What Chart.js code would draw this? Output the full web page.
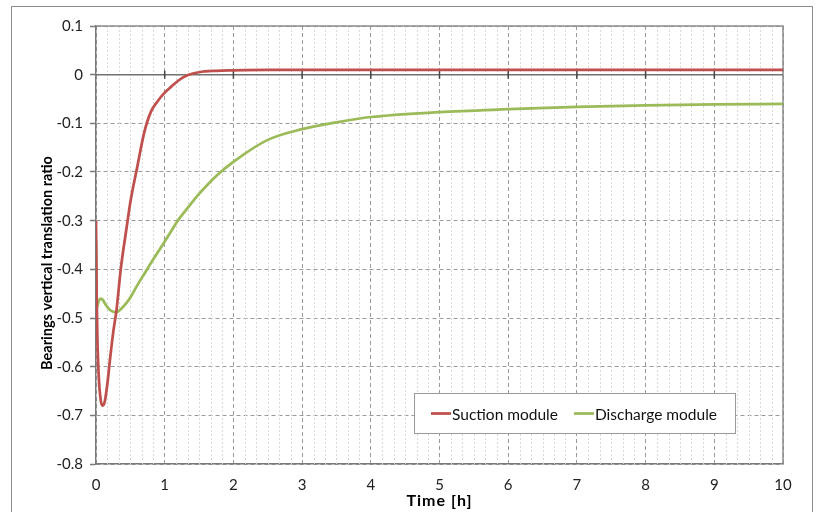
<!DOCTYPE html>
<html>
<head>
<meta charset="utf-8">
<script src="https://cdn.jsdelivr.net/npm/chart.js@4.4.1/dist/chart.umd.min.js"></script>
<style>
  html, body { margin: 0; padding: 0; background: #fff; }
</style>
</head>
<body>
<canvas id="chart" width="817" height="512"></canvas>
<script>
// time axis [h], shared by both series
const hours = [0, 0.005, 0.01, 0.02, 0.04, 0.07, 0.1, 0.13, 0.17, 0.2, 0.25, 0.3, 0.36, 0.45, 0.5,
  0.6, 0.7, 0.8, 0.9, 1.0, 1.1, 1.2, 1.3, 1.5, 1.75, 2, 2.5, 3, 3.5, 4, 5, 6, 7, 8, 9, 10];

const suction = [-0.30, -0.38, -0.46, -0.54, -0.62, -0.67, -0.68, -0.67, -0.63, -0.59, -0.53, -0.482, -0.40, -0.31, -0.262,
  -0.19, -0.12, -0.076, -0.054, -0.037, -0.024, -0.012, -0.003, 0.005, 0.008, 0.009, 0.01, 0.01, 0.01, 0.01, 0.01, 0.01, 0.01, 0.01, 0.01, 0.01];

const discharge = [-0.34, -0.42, -0.48, -0.475, -0.465, -0.46, -0.463, -0.47, -0.478, -0.483, -0.487, -0.488, -0.482, -0.468, -0.458,
  -0.433, -0.41, -0.387, -0.365, -0.343, -0.32, -0.298, -0.28, -0.245, -0.208, -0.179, -0.134, -0.112, -0.098, -0.087, -0.077, -0.071, -0.066, -0.063, -0.061, -0.060];

const seriesNames = ['Suction module', 'Discharge module'];
const seriesColors = ['#C0504D', '#9BBB59'];

const xTitle = 'Time [h]';
const yTitle = 'Bearings vertical translation ratio';

const xRange = [0, 10];
const yRange = [-0.8, 0.1];
const minorPerHour = 6; // 10 minute minor grid

const FONT = 'Lato, "Noto Sans", sans-serif';

const toPoints = vals => hours.map((h, i) => ({ x: h, y: vals[i] }));

// extra drawing: minor grid, zero line, frame, titles, legend box
const decor = {
  id: 'decor',
  beforeDatasetsDraw(chart) {
    const { ctx, chartArea: a, scales: { x, y } } = chart;
    ctx.save();

    // minor vertical lines
    ctx.strokeStyle = '#d9d9d9';
    ctx.lineWidth = 1;
    ctx.setLineDash([2, 2]);
    for (let i = 1; i < xRange[1] * minorPerHour; i++) {
      if (i % minorPerHour === 0) continue;
      const px = Math.round(x.getPixelForValue(i / minorPerHour)) + 0.5;
      ctx.beginPath();
      ctx.moveTo(px, a.top);
      ctx.lineTo(px, a.bottom);
      ctx.stroke();
    }

    // solid top and right edge
    ctx.setLineDash([]);
    ctx.strokeStyle = '#8c8c8c';
    ctx.lineWidth = 1.5;
    ctx.beginPath();
    ctx.moveTo(a.left, a.top);
    ctx.lineTo(a.right, a.top);
    ctx.lineTo(a.right, a.bottom);
    ctx.stroke();

    // zero line with major tick marks
    const zy = y.getPixelForValue(0);
    ctx.strokeStyle = '#737373';
    ctx.beginPath();
    ctx.moveTo(a.left, zy);
    ctx.lineTo(a.right, zy);
    ctx.stroke();
    ctx.strokeStyle = '#444';
    for (let h = xRange[0] + 1; h < xRange[1]; h++) {
      const px = x.getPixelForValue(h);
      ctx.beginPath();
      ctx.moveTo(px, zy - 4);
      ctx.lineTo(px, zy + 4);
      ctx.stroke();
    }
    ctx.restore();
  },
  afterDraw(chart) {
    const { ctx, chartArea: a } = chart;
    ctx.save();

    // outer frame
    ctx.strokeStyle = '#8c8c8c';
    ctx.lineWidth = 1;
    ctx.strokeRect(11.5, 6.5, 801, 530);

    // axis titles
    ctx.fillStyle = '#000';
    ctx.textAlign = 'center';
    ctx.textBaseline = 'alphabetic';
    ctx.font = 'bold 16px ' + FONT;
    ctx.letterSpacing = '1px';
    ctx.fillText(xTitle, (a.left + a.right) / 2, 506);
    ctx.letterSpacing = '0px';
    ctx.font = 'bold 14.5px ' + FONT;
    ctx.save();
    ctx.translate(52, 263);
    ctx.rotate(-Math.PI / 2);
    ctx.fillText(yTitle, 0, 0);
    ctx.restore();

    // legend
    const box = { x: 414.5, y: 393.5, w: 321, h: 40 };
    ctx.fillStyle = '#fff';
    ctx.fillRect(box.x, box.y, box.w, box.h);
    ctx.strokeStyle = '#9a9a9a';
    ctx.lineWidth = 1;
    ctx.strokeRect(box.x, box.y, box.w, box.h);

    ctx.font = '15.5px ' + FONT;
    ctx.textBaseline = 'middle';
    ctx.textAlign = 'left';
    const ly = box.y + box.h / 2;
    let lx = 431;
    chart.data.datasets.forEach(ds => {
      ctx.strokeStyle = ds.borderColor;
      ctx.lineWidth = 2.75;
      ctx.beginPath();
      ctx.moveTo(lx, ly);
      ctx.lineTo(lx + 20, ly);
      ctx.stroke();
      ctx.fillStyle = '#111';
      ctx.fillText(ds.label, lx + 21, ly + 1);
      lx += 21 + ctx.measureText(ds.label).width + 16;
    });
    ctx.restore();
  }
};

new Chart(document.getElementById('chart'), {
  type: 'line',
  data: {
    datasets: [
      {
        label: seriesNames[0],
        data: toPoints(suction),
        borderColor: seriesColors[0],
        borderWidth: 2.75,
        pointRadius: 0,
        cubicInterpolationMode: 'monotone',
        fill: false
      },
      {
        label: seriesNames[1],
        data: toPoints(discharge),
        borderColor: seriesColors[1],
        borderWidth: 2.75,
        pointRadius: 0,
        cubicInterpolationMode: 'monotone',
        fill: false
      }
    ]
  },
  options: {
    responsive: false,
    animation: false,
    layout: { padding: { left: 0, top: 26, right: 34, bottom: 0 } },
    plugins: {
      legend: { display: false },
      tooltip: { enabled: false }
    },
    scales: {
      x: {
        type: 'linear',
        min: xRange[0],
        max: xRange[1],
        ticks: {
          stepSize: 1,
          maxRotation: 0,
          padding: 12,
          color: '#222',
          font: { family: FONT, size: 15 }
        },
        grid: { color: '#9a9a9a', lineWidth: 1, drawTicks: false },
        border: { display: true, color: '#7a7a7a', width: 1.5, dash: [4, 3] },
        afterFit: s => { s.height = 48; }
      },
      y: {
        min: yRange[0],
        max: yRange[1],
        ticks: {
          stepSize: 0.1,
          padding: 7,
          color: '#222',
          font: { family: FONT, size: 15 },
          callback: v => String(+v.toFixed(1))
        },
        grid: { color: '#9a9a9a', lineWidth: 1, tickLength: 6, tickColor: '#7a7a7a', tickWidth: 1.5 },
        border: { display: true, color: '#7a7a7a', width: 1.5, dash: [4, 3] },
        afterFit: s => { s.width = 96; }
      }
    }
  },
  plugins: [decor]
});
</script>
</body>
</html>
